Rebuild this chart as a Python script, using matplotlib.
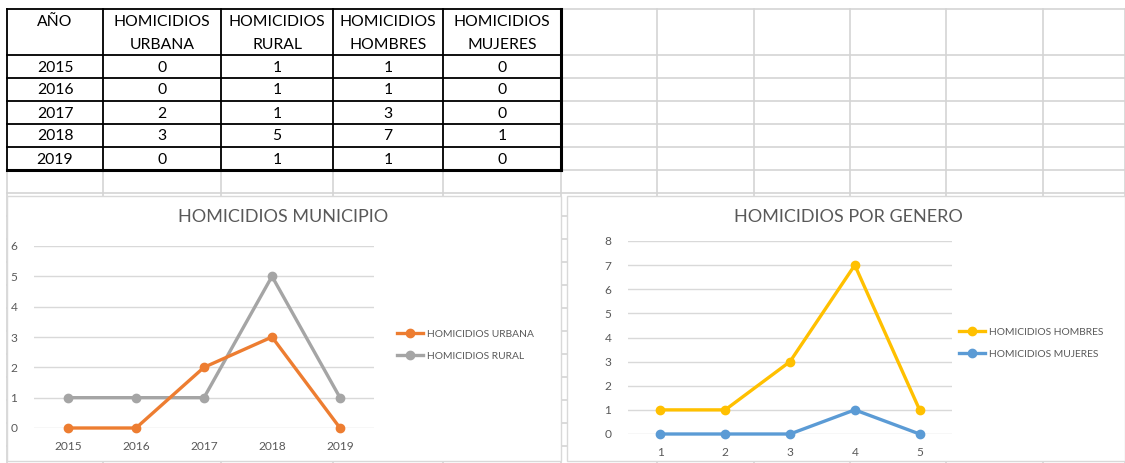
import matplotlib
matplotlib.use("Agg")
import matplotlib.pyplot as plt
from matplotlib.lines import Line2D

plt.rcParams['font.family'] = ['Lato', 'DejaVu Sans']

# data from the sheet
years = ["2015", "2016", "2017", "2018", "2019"]
urbana = [0, 0, 2, 3, 0]
rural = [1, 1, 1, 5, 1]
hombres = [1, 1, 3, 7, 1]
mujeres = [0, 0, 0, 1, 0]
headers = [("AÑO", ""), ("HOMICIDIOS", "URBANA"), ("HOMICIDIOS", "RURAL"),
           ("HOMICIDIOS", "HOMBRES"), ("HOMICIDIOS", "MUJERES")]
gender_x = [1, 2, 3, 4, 5]

W, H = 1125, 463
fig = plt.figure(figsize=(W / 100, H / 100), dpi=100)
fig.patch.set_facecolor("white")

def box(x0, y0, x1, y1):
    # pixel box (top-left origin) -> figure rect
    return [x0 / W, 1 - y1 / H, (x1 - x0) / W, (y1 - y0) / H]

# sheet layer in pixel coords
sheet = fig.add_axes([0, 0, 1, 1])
sheet.set_xlim(0, W)
sheet.set_ylim(H, 0)
sheet.axis("off")

grid_c = "#d4d4d4"
col_x = [7, 103, 221, 333, 443, 561, 657, 754, 850, 946, 1043, 1125]
row_y = [9, 55, 78, 101, 124, 147, 170, 193, 216, 239, 262, 285, 308, 331, 354, 377, 400, 423, 446]
for x in col_x:
    sheet.plot([x, x], [9, H], color=grid_c, lw=1.2)
for y in row_y:
    sheet.plot([7, W], [y, y], color=grid_c, lw=1.2)

# black bordered table
tx = col_x[:6]
ty = row_y[:7]
for x in tx:
    sheet.plot([x, x], [ty[0], ty[-1]], color="black", lw=1.3)
for y in ty:
    sheet.plot([tx[0], tx[-1]], [y, y], color="black", lw=1.3)
sheet.plot([tx[-1], tx[-1]], [ty[0], ty[-1]], color="black", lw=2.2)
sheet.plot([tx[0], tx[-1]], [ty[-1], ty[-1]], color="black", lw=2.2)

for j, (l1, l2) in enumerate(headers):
    xc = (tx[j] + tx[j + 1]) / 2
    sheet.text(xc, 22, l1, ha="center", va="center", fontsize=11.3, color="black")
    sheet.text(xc, 45, l2, ha="center", va="center", fontsize=11.3, color="black")
rows = list(zip(years, urbana, rural, hombres, mujeres))
for i, r in enumerate(rows):
    yc = (ty[i + 1] + ty[i + 2]) / 2
    for j, v in enumerate(r):
        sheet.text((tx[j] + tx[j + 1]) / 2, yc + 1, str(v), ha="center", va="center",
                   fontsize=11.3, color="black")

# chart panels
for (x0, x1) in [(7, 561), (567, 1125)]:
    sheet.add_patch(plt.Rectangle((x0, 196), x1 - x0, 265, facecolor="white",
                                  edgecolor="#d9d9d9", lw=1, zorder=5))

txt_c = "#595959"

def style(ax, ymax, labels):
    ax.set_ylim(0, ymax)
    ax.set_xlim(-0.5, len(labels) - 0.5)
    ax.set_yticks(range(ymax + 1))
    ax.set_xticks(range(len(labels)))
    ax.set_xticklabels(labels)
    ax.grid(axis="y", color="#d9d9d9", lw=1)
    ax.set_axisbelow(True)
    for s in ax.spines.values():
        s.set_visible(False)
    ax.tick_params(length=0, labelsize=8.6, labelcolor=txt_c)
    ax.tick_params(axis="y", pad=12)
    ax.tick_params(axis="x", pad=9)
    ax.patch.set_alpha(0)

# left chart
ax1 = fig.add_axes(box(34, 246, 374, 428))
ax1.set_zorder(10)
ax1.plot(range(len(years)), urbana, color="#ed7d31", lw=2.4, marker="o", ms=6, clip_on=False, zorder=4)
ax1.plot(range(len(years)), rural, color="#a5a5a5", lw=2.4, marker="o", ms=6, clip_on=False, zorder=3)
style(ax1, 6, years)
fig.text(283 / W, 1 - 217 / H, "HOMICIDIOS MUNICIPIO", ha="center", va="center",
         fontsize=13, color=txt_c, zorder=11)
h1 = [Line2D([], [], color="#ed7d31", lw=2.4, marker="o", ms=6),
      Line2D([], [], color="#a5a5a5", lw=2.4, marker="o", ms=6)]
ax1.legend(h1, ["HOMICIDIOS URBANA", "HOMICIDIOS RURAL"], loc="center left",
           bbox_to_anchor=(397 / W, 1 - 345 / H), bbox_transform=fig.transFigure,
           frameon=False, fontsize=7.4, labelcolor=txt_c, handlelength=2.5,
           handletextpad=0.4, labelspacing=1.25, borderaxespad=0, borderpad=0)

# right chart
ax2 = fig.add_axes(box(628, 241, 952, 434))
ax2.set_zorder(10)
xi = range(len(gender_x))
ax2.plot(xi, hombres, color="#ffc000", lw=2.4, marker="o", ms=6, clip_on=False, zorder=4)
ax2.plot(xi, mujeres, color="#5b9bd5", lw=2.4, marker="o", ms=6, clip_on=False, zorder=3)
style(ax2, 8, [str(v) for v in gender_x])
fig.text(848 / W, 1 - 217 / H, "HOMICIDIOS POR GENERO", ha="center", va="center",
         fontsize=13, color=txt_c, zorder=11)
h2 = [Line2D([], [], color="#ffc000", lw=2.4, marker="o", ms=6),
      Line2D([], [], color="#5b9bd5", lw=2.4, marker="o", ms=6)]
ax2.legend(h2, ["HOMICIDIOS HOMBRES", "HOMICIDIOS MUJERES"], loc="center left",
           bbox_to_anchor=(959 / W, 1 - 343 / H), bbox_transform=fig.transFigure,
           frameon=False, fontsize=7.4, labelcolor=txt_c, handlelength=2.5,
           handletextpad=0.4, labelspacing=1.25, borderaxespad=0, borderpad=0)

fig.savefig("out.png", dpi=100, facecolor="white")
